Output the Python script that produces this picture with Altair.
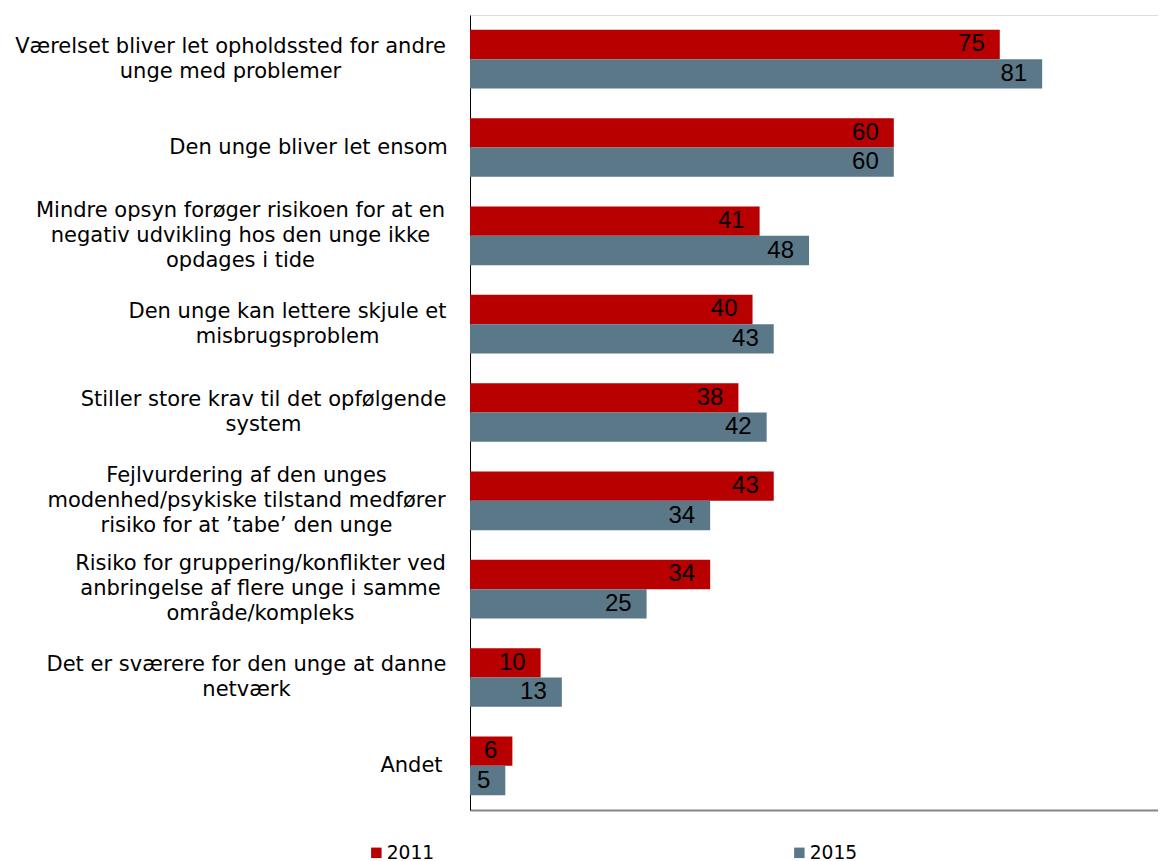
import json
import altair as alt
import pandas as pd

categories = [
    "Værelset bliver let opholdssted for andre|unge med problemer",
    "Den unge bliver let ensom",
    "Mindre opsyn forøger risikoen for at en|negativ udvikling hos den unge ikke|opdages i tide",
    "Den unge kan lettere skjule et|misbrugsproblem",
    "Stiller store krav til det opfølgende|system",
    "Fejlvurdering af den unges|modenhed/psykiske tilstand medfører|risiko for at ’tabe’ den unge",
    "Risiko for gruppering/konflikter ved|anbringelse af flere unge i samme|område/kompleks",
    "Det er sværere for den unge at danne|netværk",
    "Andet",
]
values_2011 = [75, 60, 41, 40, 38, 43, 34, 10, 6]
values_2015 = [81, 60, 48, 43, 42, 34, 25, 13, 5]
series = ["2011", "2015"]
colors = ["#B80000", "#5B7888"]

rows = []
for c, a, b in zip(categories, values_2011, values_2015):
    rows.append({"kategori": c, "år": series[0], "værdi": a})
    rows.append({"kategori": c, "år": series[1], "værdi": b})
df = pd.DataFrame(rows)

# layout: distance from axis line to the centre of each label block (px)
label_centre = [240, 162, 230, 183, 207, 224, 210, 224, 59]
pad_expr = "{}[indexof({}, datum.value)]".format(
    json.dumps(label_centre), json.dumps(categories, ensure_ascii=False)
)
offset_expr = "-(length(split(datum.value, '|')) - 1) * 12.5"

y_enc = alt.Y(
    "kategori:N",
    sort=categories,
    scale=alt.Scale(paddingInner=0.335, paddingOuter=0.1675),
    axis=alt.Axis(
        title=None,
        labelExpr="split(datum.value, '|')",
        labelAlign="center",
        labelBaseline="middle",
        labelLineHeight=25,
        labelLimit=0,
        labelFont="DejaVu Sans",
        labelFontSize=21,
        labelColor="#000000",
        labelPadding={"expr": pad_expr},
        labelOffset={"expr": offset_expr},
        ticks=False,
        tickSize=0,
        domain=True,
        domainColor="#000000",
        domainWidth=1,
        grid=False,
    ),
)
yoff = alt.YOffset("år:N", sort=series, scale=alt.Scale(paddingInner=0, paddingOuter=0))
x_enc = alt.X(
    "værdi:Q",
    scale=alt.Scale(domain=[0, 97.4], nice=False),
    axis=alt.Axis(
        title=None, labels=False, ticks=False, grid=False,
        domain=True, domainColor="#868686", domainWidth=2,
    ),
)

bars = alt.Chart(df).mark_bar().encode(
    y=y_enc,
    yOffset=yoff,
    x=x_enc,
    color=alt.Color(
        "år:N",
        scale=alt.Scale(domain=series, range=colors),
        legend=alt.Legend(
            title=None,
            orient="none",
            legendX=-103,
            legendY=828,
            direction="horizontal",
            columns=2,
            columnPadding=355,
            symbolType="square",
            symbolSize=110,
            symbolStrokeWidth=0,
            symbolOpacity=1,
            labelFont="DejaVu Sans",
            labelFontSize=18.7,
            labelColor="#000000",
            labelOffset=1,
            padding=0,
        ),
    ),
)

texts = alt.Chart(df).mark_text(
    align="right", baseline="middle", dx=-15,
    font="Liberation Sans", fontSize=24, color="#000000",
).encode(
    y=alt.Y("kategori:N", sort=categories),
    yOffset=alt.YOffset("år:N", sort=series),
    x=alt.X("værdi:Q"),
    text=alt.Text("værdi:Q"),
)

chart = alt.layer(bars, texts).properties(
    width=688,
    height=795,
    autosize=alt.AutoSizeParams(type="none"),
    padding={"left": 462, "top": 7, "right": 0, "bottom": 62},
).configure_view(stroke=None).configure(background="white")

chart.save("out.html", embed_options={"renderer": "svg", "actions": False})
